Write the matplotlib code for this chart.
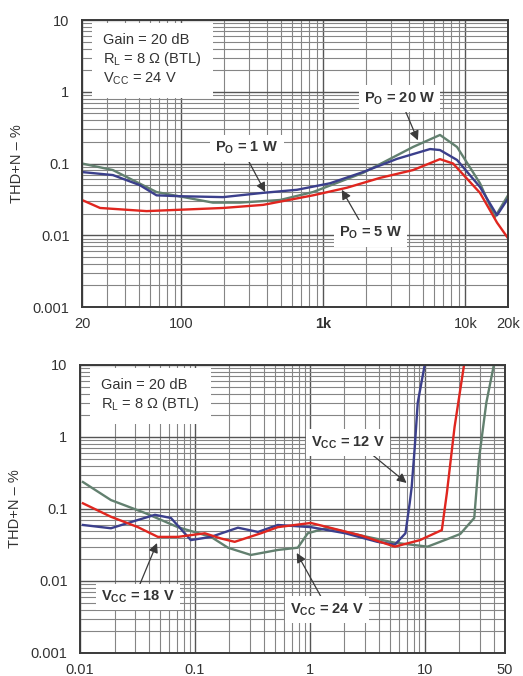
import numpy as np
import matplotlib
matplotlib.use("Agg")
import matplotlib.pyplot as plt
from matplotlib.ticker import FixedLocator, LogLocator, NullFormatter

plt.rcParams["font.family"] = ["Liberation Sans", "DejaVu Sans"]

# --- THD+N vs frequency (Gain 20 dB, RL 8 ohm BTL, VCC 24 V) ---
freq_1w = [20, 33, 51, 67, 98, 197, 377, 653, 1115, 1906, 3305, 5650, 6640, 8750,
           12700, 16740, 19700]
thd_1w = [0.076, 0.069, 0.050, 0.036, 0.035, 0.034, 0.039, 0.043, 0.053, 0.076, 0.116,
          0.159, 0.154, 0.112, 0.047, 0.019, 0.031]

freq_20w = [20, 33, 67, 167, 259, 496, 847, 1906, 4290, 6640, 8750, 12700, 16200, 20000]
thd_20w = [0.1, 0.081, 0.040, 0.0285, 0.0285, 0.031, 0.040, 0.074, 0.17, 0.25, 0.17,
           0.053, 0.018, 0.036]

freq_5w = [20, 26.8, 57, 197, 377, 847, 1470, 2510, 4290, 6640, 8200, 12700, 16740, 20000]
thd_5w = [0.031, 0.024, 0.0217, 0.024, 0.0265, 0.036, 0.046, 0.063, 0.081, 0.115, 0.1,
          0.039, 0.015, 0.0091]

# --- THD+N vs output power (Gain 20 dB, RL 8 ohm BTL) ---
pwr_12v = [0.0106, 0.0186, 0.0262, 0.0449, 0.0619, 0.0922, 0.138, 0.237, 0.354, 0.527,
           1.02, 2.04, 3.87, 5.5, 6.8, 7.4, 7.7, 8.2, 8.7, 10.0]
thd_12v = [0.060, 0.054, 0.064, 0.083, 0.075, 0.037, 0.041, 0.055, 0.048, 0.060,
           0.056, 0.046, 0.035, 0.032, 0.046, 0.12, 0.2, 0.73, 3.0, 10.0]

pwr_18v = [0.0106, 0.0186, 0.0319, 0.0476, 0.071, 0.122, 0.168, 0.222, 0.375, 0.527,
           1.02, 1.43, 2.77, 5.5, 9.1, 14.1, 15.6, 18.2, 22.0]
thd_18v = [0.12, 0.078, 0.056, 0.041, 0.041, 0.046, 0.039, 0.035, 0.046, 0.056,
           0.064, 0.056, 0.043, 0.030, 0.037, 0.051, 0.167, 1.38, 10.0]

pwr_24v = [0.0106, 0.0186, 0.0368, 0.071, 0.138, 0.194, 0.307, 0.527, 0.786, 0.96,
           1.43, 2.77, 5.5, 10.6, 15.6, 20.4, 27, 29.6, 34.4, 40.0]
thd_24v = [0.237, 0.133, 0.088, 0.056, 0.041, 0.029, 0.023, 0.027, 0.029, 0.046,
           0.055, 0.043, 0.034, 0.030, 0.038, 0.045, 0.075, 0.48, 3.0, 10.0]

freq_ticks = [20, 100, 1000, 10000, 20000]
freq_labels = ["20", "100", "1k", "10k", "20k"]
pwr_ticks = [0.01, 0.1, 1, 10, 50]
pwr_labels = ["0.01", "0.1", "1", "10", "50"]
thd_ticks = [0.001, 0.01, 0.1, 1, 10]
thd_labels = ["0.001", "0.01", "0.1", "1", "10"]

GRAY = "#62806f"
BLUE = "#3b3f8c"
RED = "#e0261f"
GRID = "#858585"
TXT = "#333333"

fig = plt.figure(figsize=(5.23, 6.76), dpi=100)
ax1 = fig.add_axes([82 / 523, 1 - 307 / 676, 426 / 523, 287 / 676])
ax2 = fig.add_axes([80 / 523, 1 - 653 / 676, 425 / 523, 288 / 676])


def style_axis(ax, xlim, xticks, xlabels):
    ax.set_xscale("log")
    ax.set_yscale("log")
    ax.set_xlim(*xlim)
    ax.set_ylim(0.001, 10)
    ax.xaxis.set_major_locator(FixedLocator(xticks))
    ax.set_xticklabels(xlabels)
    ax.xaxis.set_minor_locator(LogLocator(base=10, subs=np.arange(2, 10)))
    ax.xaxis.set_minor_formatter(NullFormatter())
    ax.yaxis.set_major_locator(FixedLocator(thd_ticks))
    ax.set_yticklabels(thd_labels)
    ax.yaxis.set_minor_locator(LogLocator(base=10, subs=np.arange(2, 10)))
    ax.yaxis.set_minor_formatter(NullFormatter())
    ax.grid(True, which="major", color="#555555", lw=1.0)
    ax.grid(True, which="minor", color=GRID, lw=0.8)
    ax.set_axisbelow(True)
    ax.tick_params(which="both", length=0, labelsize=10.5, colors=TXT)
    ax.tick_params(axis="x", pad=7)
    ax.tick_params(axis="y", pad=9)
    for s in ax.spines.values():
        s.set_color("#3a3a3a")
        s.set_linewidth(1.4)
    ax.set_ylabel("THD+N \u2013 %", fontsize=10.5, color=TXT, labelpad=6)


style_axis(ax1, (20, 20000), freq_ticks, freq_labels)
style_axis(ax2, (0.01, 50), pwr_ticks, pwr_labels)
for lbl in ax1.get_xticklabels():
    if lbl.get_text() == "1k":
        lbl.set_fontweight("bold")

lw = 1.7
ax1.plot(freq_20w, thd_20w, color=GRAY, lw=lw)
ax1.plot(freq_1w, thd_1w, color=BLUE, lw=lw)
ax1.plot(freq_5w, thd_5w, color=RED, lw=lw)

ax2.plot(pwr_24v, thd_24v, color=GRAY, lw=lw)
ax2.plot(pwr_12v, thd_12v, color=BLUE, lw=lw)
ax2.plot(pwr_18v, thd_18v, color=RED, lw=lw)

box = dict(boxstyle="square,pad=0.35", fc="white", ec="none")
arrow = dict(arrowstyle="-|>", color="#3a3a3a", lw=0.9, mutation_scale=14,
             shrinkA=0, shrinkB=0)

ax1.text(0.05, 0.955, "Gain = 20 dB\nR$_\\mathregular{L}$ = 8 \u03a9 (BTL)\nV$_\\mathregular{CC}$ = 24 V",
         transform=ax1.transAxes, va="top", ha="left", fontsize=10.5, color=TXT,
         linespacing=1.2, bbox=dict(boxstyle="square,pad=0.8", fc="white", ec="none"))
ax2.text(0.05, 0.955, "Gain = 20 dB\nR$_\\mathregular{L}$ = 8 \u03a9 (BTL)",
         transform=ax2.transAxes, va="top", ha="left", fontsize=10.5, color=TXT,
         linespacing=1.2, bbox=dict(boxstyle="square,pad=0.8", fc="white", ec="none"))


def note(ax, text, xy, xytext, start):
    ax.annotate("", xy=xy, xytext=start, arrowprops=arrow)
    ax.text(*xytext, text, ha="center", va="center", fontsize=10.5, fontweight="bold",
            color=TXT, bbox=box)


note(ax1, "P$_\\mathregular{O}$ = 1 W", (390, 0.040), (290, 0.164), (295, 0.112))
note(ax1, "P$_\\mathregular{O}$ = 20 W", (4640, 0.21), (3460, 0.8), (3760, 0.56))
note(ax1, "P$_\\mathregular{O}$ = 5 W", (1350, 0.043), (2140, 0.0107), (1800, 0.016))

note(ax2, "V$_\\mathregular{CC}$ = 12 V", (6.96, 0.23), (2.14, 0.83), (3.53, 0.56))
note(ax2, "V$_\\mathregular{CC}$ = 18 V", (0.0468, 0.0337), (0.0319, 0.006), (0.033, 0.0088))
note(ax2, "V$_\\mathregular{CC}$ = 24 V", (0.77, 0.0245), (1.41, 0.004), (1.27, 0.0058))

fig.savefig("out.png", dpi=100, facecolor="white")
